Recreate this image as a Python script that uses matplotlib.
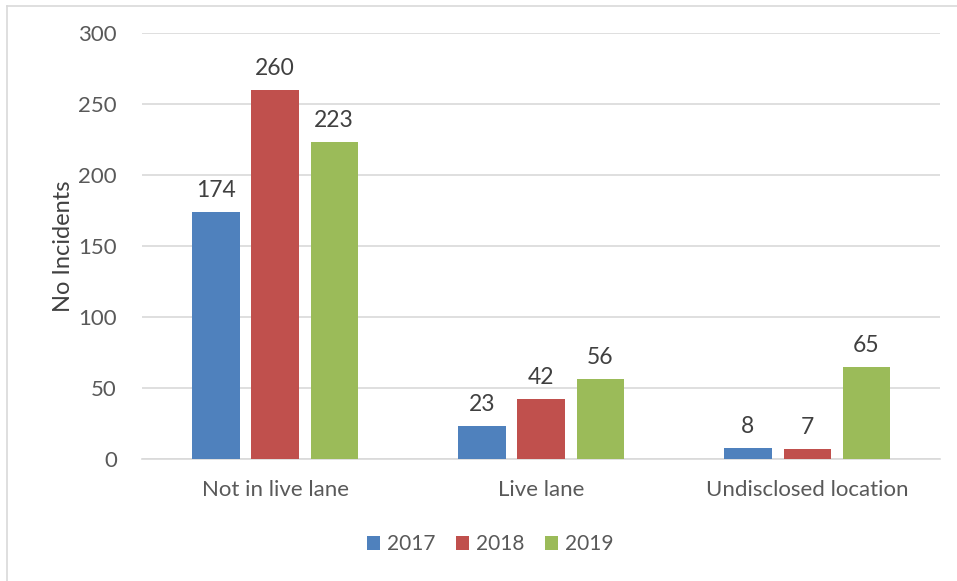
import matplotlib.pyplot as plt
import numpy as np

categories = ["Not in live lane", "Live lane", "Undisclosed location"]
years = ["2017", "2018", "2019"]
values_2017 = [174, 23, 8]
values_2018 = [260, 42, 7]
values_2019 = [223, 56, 65]

colors = ["#4f81bd", "#c0504d", "#9bbb59"]
text_color = "#595959"

plt.rcParams['font.family'] = ['Lato', 'DejaVu Sans']

fig = plt.figure(figsize=(9.57, 5.81), dpi=100)
ax = fig.add_axes([0.1484, 0.21, 0.8339, 0.7332])

x = np.arange(len(categories))
width = 0.177
step = 0.222

for i, (vals, year) in enumerate(zip([values_2017, values_2018, values_2019], years)):
    bars = ax.bar(x + (i - 1) * step, vals, width, color=colors[i], label=year, zorder=3)
    for b, v in zip(bars, vals):
        ax.annotate(str(v), (b.get_x() + b.get_width() / 2, v), xytext=(0, 8),
                    textcoords="offset points", ha="center", va="bottom",
                    fontsize=16.5, color="#404040")

ax.set_xlim(-0.5, 2.5)
ax.set_ylim(0, 300)
ax.set_yticks(range(0, 301, 50))
ax.set_xticks(x)
ax.set_xticklabels(categories)
ax.tick_params(length=0, labelsize=16, colors=text_color)
ax.tick_params(axis='y', pad=18)
ax.tick_params(axis='x', pad=15)
ax.yaxis.grid(True, color="#d9d9d9", linewidth=1.2, zorder=0)
for s in ["top", "right", "left"]:
    ax.spines[s].set_visible(False)
ax.spines["bottom"].set_color("#d9d9d9")
ax.spines["bottom"].set_linewidth(1.2)
ax.set_ylabel("No Incidents", fontsize=17, color="#404040", labelpad=3)

fig.legend(loc="center", bbox_to_anchor=(490 / 957, 1 - 544 / 581), ncol=3, frameon=False,
           fontsize=15, labelcolor=text_color, handlelength=0.65, handleheight=0.65,
           handletextpad=0.3, columnspacing=1.0)

# thin frame on top and left edge like the source screenshot
fig.add_artist(plt.Line2D([7.5 / 957, 7.5 / 957], [0, 1 - 5.5 / 581], transform=fig.transFigure,
                          color="#d9d9d9", linewidth=1.2))
fig.add_artist(plt.Line2D([7.5 / 957, 1], [1 - 5.5 / 581, 1 - 5.5 / 581], transform=fig.transFigure,
                          color="#d9d9d9", linewidth=1.2))

fig.savefig("out.png", dpi=100, facecolor="white")
